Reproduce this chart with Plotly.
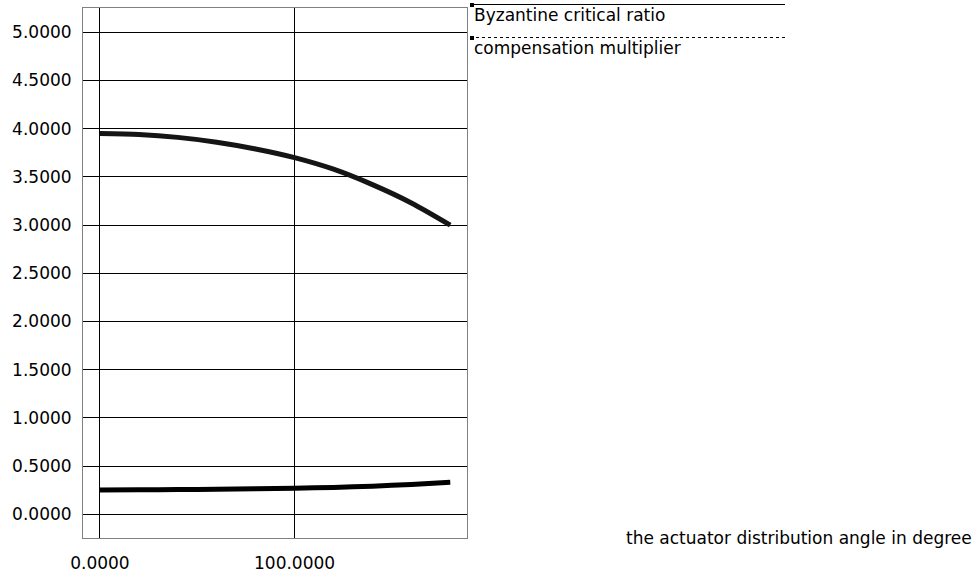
import plotly.graph_objects as go

angles = [0, 20, 40, 60, 80, 100, 120, 140, 160, 180]
critical_ratio = [3.95, 3.94, 3.91, 3.86, 3.79, 3.70, 3.58, 3.42, 3.23, 3.00]
compensation = [0.253, 0.254, 0.256, 0.259, 0.264, 0.270, 0.279, 0.292, 0.310, 0.333]
series_names = ["Byzantine critical ratio", "compensation multiplier"]
x_title = "the actuator distribution angle in degree"

W, H = 975, 577
L, R, T, B = 83, 467, 8, 538
FONT = "DejaVu Sans"

def px(x):
    return (x - L) / (R - L)

def py(y):
    return (B - y) / (B - T)

fig = go.Figure()
fig.add_trace(go.Scatter(x=angles, y=critical_ratio, mode="lines", name=series_names[0],
                         line=dict(color="#151515", width=5, shape="spline", smoothing=0.8)))
fig.add_trace(go.Scatter(x=angles, y=compensation, mode="lines", name=series_names[1],
                         line=dict(color="#000000", width=5, shape="spline", smoothing=0.8)))

shapes = [
    dict(type="line", xref="paper", yref="paper", x0=px(470), x1=px(785), y0=py(4.5), y1=py(4.5),
         line=dict(color="black", width=1)),
    dict(type="rect", xref="paper", yref="paper", x0=px(470), x1=px(474), y0=py(3), y1=py(7),
         fillcolor="black", line=dict(width=0)),
    dict(type="line", xref="paper", yref="paper", x0=px(470), x1=px(785), y0=py(37.5), y1=py(37.5),
         line=dict(color="black", width=1, dash="dot")),
    dict(type="rect", xref="paper", yref="paper", x0=px(470), x1=px(474), y0=py(36), y1=py(40),
         fillcolor="black", line=dict(width=0)),
]
annotations = [
    dict(text=series_names[0], xref="paper", yref="paper", x=px(472), y=py(15),
         xanchor="left", yanchor="middle", showarrow=False, font=dict(size=17, color="black", family=FONT)),
    dict(text=series_names[1], xref="paper", yref="paper", x=px(472), y=py(48),
         xanchor="left", yanchor="middle", showarrow=False, font=dict(size=17, color="black", family=FONT)),
    dict(text=x_title, xref="paper", yref="paper", x=px(974), y=py(538),
         xanchor="right", yanchor="middle", showarrow=False, font=dict(size=17, color="black", family=FONT)),
]

fig.update_layout(
    template="none",
    width=W, height=H,
    margin=dict(l=L, r=W - R, t=T, b=H - B, pad=0, autoexpand=False),
    paper_bgcolor="white", plot_bgcolor="white",
    showlegend=False,
    font=dict(family=FONT, size=17, color="black"),
    shapes=shapes, annotations=annotations,
)
fig.update_xaxes(range=[-8.7, 188.6], tickvals=[0, 100], ticktext=["0.0000", "100.0000"],
                 automargin=False,
                 showgrid=True, gridcolor="black", gridwidth=1, zeroline=False,
                 showline=True, linecolor="#808080", linewidth=1, mirror=True,
                 ticks="", ticklabelstandoff=10, tickfont=dict(size=17, family=FONT))
fig.update_yaxes(range=[-0.246, 5.252], tickvals=[0, 0.5, 1, 1.5, 2, 2.5, 3, 3.5, 4, 4.5, 5],
                 tickformat=".4f", automargin=False,
                 showgrid=True, gridcolor="black", gridwidth=1, zeroline=False,
                 showline=True, linecolor="#808080", linewidth=1, mirror=True,
                 ticks="", ticklabelstandoff=7, tickfont=dict(size=17, family=FONT))

fig.write_html("out.html", config={"displayModeBar": False},
               post_script="document.body.style.margin='0';document.body.style.overflow='hidden';")
